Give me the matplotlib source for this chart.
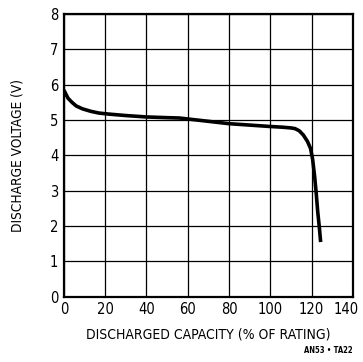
import matplotlib
matplotlib.use('Agg')
import matplotlib.pyplot as plt
import matplotlib.transforms as mtransforms
import numpy as np

# discharge curve
capacity = [0, 2, 4, 6, 9, 13, 17, 22, 30, 40, 50, 56, 65, 80, 90, 100, 106, 110, 112, 114, 116, 118, 119.5, 120.5, 121.5, 122.3, 123, 123.8, 124.4]
voltage = [5.85, 5.62, 5.5, 5.4, 5.32, 5.25, 5.2, 5.17, 5.13, 5.09, 5.07, 5.06, 5.0, 4.9, 4.86, 4.82, 4.8, 4.78, 4.76, 4.7, 4.58, 4.4, 4.2, 3.9, 3.4, 2.9, 2.4, 1.95, 1.55]

x_ticks = [0, 20, 40, 60, 80, 100, 120, 140]
y_ticks = [0, 1, 2, 3, 4, 5, 6, 7, 8]

plt.rcParams['font.family'] = ['DejaVu Sans']
plt.rcParams['font.stretch'] = 'condensed'

fig = plt.figure(figsize=(3.63, 3.62), dpi=100)
ax = fig.add_axes([0.176, 0.18, 0.796, 0.781])
ax.plot(capacity, voltage, color='black', linewidth=2.6, solid_capstyle='butt')
ax.set_xlim(0, 140)
ax.set_ylim(0, 8)
ax.set_xticks(x_ticks)
ax.set_yticks(y_ticks)
ax.tick_params(length=0, labelsize=10.5, pad=4)
ax.grid(True, color='black', linewidth=0.9)
for s in ax.spines.values():
    s.set_linewidth(1.6)
# last x label sits a bit inside the figure edge
last = ax.get_xticklabels()[-1]
last.set_transform(last.get_transform() + mtransforms.ScaledTranslation(-5 / 72, 0, fig.dpi_scale_trans))
ax.set_xlabel('DISCHARGED CAPACITY (% OF RATING)', fontsize=10, labelpad=7)
ax.set_ylabel('DISCHARGE VOLTAGE (V)', fontsize=9.8, labelpad=18)
fig.text(0.972, 0.02, 'AN53 • TA22', fontsize=5.5, fontweight='bold', ha='right', va='bottom')
plt.savefig('out.png', dpi=100)
